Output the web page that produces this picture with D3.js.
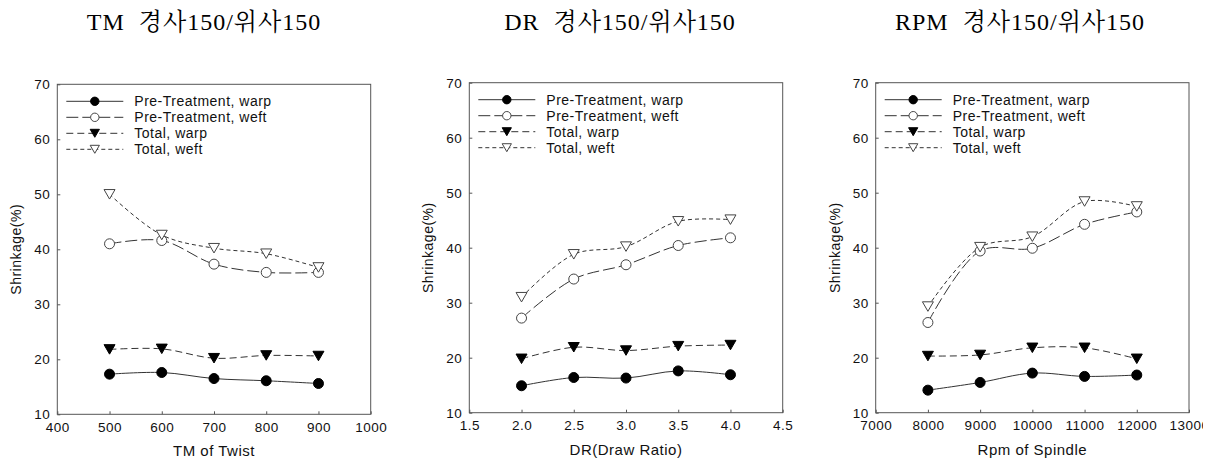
<!DOCTYPE html>
<html><head><meta charset="utf-8">
<script src="https://cdn.jsdelivr.net/npm/d3@7"></script>
<style>
html,body{margin:0;padding:0;background:#fff;}
svg{display:block;}
</style></head>
<body>
<script>
// ---- data ----
const titles = ["TM  경사150/위사150", "DR  경사150/위사150", "RPM  경사150/위사150"];
const xTitles = ["TM of Twist", "DR(Draw Ratio)", "Rpm of Spindle"];
const yTitle = "Shrinkage(%)";
const seriesNames = ["Pre-Treatment, warp", "Pre-Treatment, weft", "Total, warp", "Total, weft"];

const tmX = [500, 600, 700, 800, 900];
const tmPreWarp = [17.3, 17.6, 16.5, 16.1, 15.6];
const tmPreWeft = [41.0, 41.6, 37.3, 35.8, 35.8];
const tmTotWarp = [21.8, 21.9, 20.2, 20.7, 20.6];
const tmTotWeft = [50.0, 42.6, 40.2, 39.2, 36.7];
const tmTicks = [400, 500, 600, 700, 800, 900, 1000];

const drX = [2.0, 2.5, 3.0, 3.5, 4.0];
const drPreWarp = [14.9, 16.4, 16.3, 17.6, 16.9];
const drPreWeft = [27.2, 34.3, 36.9, 40.4, 41.8];
const drTotWarp = [19.8, 21.9, 21.3, 22.1, 22.3];
const drTotWeft = [31.0, 38.8, 40.2, 44.8, 45.1];
const drTicks = [1.5, 2.0, 2.5, 3.0, 3.5, 4.0, 4.5];

const rpmX = [8000, 9000, 10000, 11000, 12000];
const rpmPreWarp = [14.1, 15.5, 17.2, 16.6, 16.85];
const rpmPreWeft = [26.4, 39.4, 39.9, 44.25, 46.5];
const rpmTotWarp = [20.3, 20.5, 21.8, 21.8, 19.8];
const rpmTotWeft = [29.3, 40.1, 42.0, 48.4, 47.5];
const rpmTicks = [7000, 8000, 9000, 10000, 11000, 12000, 13000];

const yTicks = [10, 20, 30, 40, 50, 60, 70];

// ---- layout ----
const W = 1203, H = 459;
const svg = d3.select("body").append("svg").attr("width", W).attr("height", H)
  .style("overflow", "hidden");

const panels = [
  {x: tmX, s: [tmPreWarp, tmPreWeft, tmTotWarp, tmTotWeft], ticks: tmTicks, dom: [400, 1000], fmt: d3.format("d"),
   left: 57.3, right: 370.7, top: 84.3, bottom: 414.3, titleX: 204},
  {x: drX, s: [drPreWarp, drPreWeft, drTotWarp, drTotWeft], ticks: drTicks, dom: [1.5, 4.5], fmt: d3.format(".1f"),
   left: 469.3, right: 782.7, top: 82.7, bottom: 412.7, titleX: 620},
  {x: rpmX, s: [rpmPreWarp, rpmPreWeft, rpmTotWarp, rpmTotWeft], ticks: rpmTicks, dom: [7000, 13000], fmt: d3.format("d"),
   left: 875.7, right: 1189, top: 82.7, bottom: 412.7, titleX: 1020}
];

const dashes = [null, "12,4", "7,4", "4,3"];
const lineCol = "#333";
const axisCol = "#555";
const sansFont = "'Liberation Sans', Arial, sans-serif";

function marker(g, type, cx, cy, r) {
  if (type === 0 || type === 1) {
    g.append("circle").attr("cx", cx).attr("cy", cy).attr("r", r)
      .attr("fill", type === 0 ? "#000" : "#fff")
      .attr("stroke", type === 0 ? "#000" : "#444").attr("stroke-width", 1);
  } else {
    const w = r * 1.1, h = r * 0.95;
    const p = `M${cx - w},${cy - h}L${cx + w},${cy - h}L${cx},${cy + h}Z`;
    g.append("path").attr("d", p)
      .attr("fill", type === 2 ? "#000" : "#fff")
      .attr("stroke", type === 2 ? "#000" : "#444").attr("stroke-width", 1);
  }
}

panels.forEach((P, pi) => {
  const x = d3.scaleLinear().domain(P.dom).range([P.left, P.right]);
  const y = d3.scaleLinear().domain([10, 70]).range([P.bottom, P.top]);
  const g = svg.append("g");

  // title
  g.append("text").attr("x", P.titleX).attr("y", 30).attr("text-anchor", "middle")
    .attr("font-family", "'Liberation Serif', 'Times New Roman', 'Noto Serif CJK KR', 'Noto Sans CJK KR', serif")
    .attr("font-size", 24).attr("fill", "#000").style("white-space", "pre")
    .style("letter-spacing", "1px").attr("font-weight", "normal")
    .attr("xml:space", "preserve").text(titles[pi]);

  // axes
  const xa = g.append("g").attr("transform", `translate(0,${P.bottom})`)
    .call(d3.axisBottom(x).tickValues(P.ticks).tickFormat(P.fmt).tickSizeInner(-3).tickSizeOuter(0).tickPadding(8));
  const ya = g.append("g").attr("transform", `translate(${P.left},0)`)
    .call(d3.axisLeft(y).tickValues(yTicks).tickSizeInner(-3).tickSizeOuter(0).tickPadding(7));
  [xa, ya].forEach(a => {
    a.select(".domain").remove();
    a.selectAll(".tick line").attr("stroke", axisCol);
    a.selectAll(".tick text").attr("font-family", sansFont).attr("font-size", 13.5)
      .attr("fill", "#111").style("letter-spacing", "0.5px");
  });
  // frame
  g.append("rect").attr("x", P.left).attr("y", P.top)
    .attr("width", P.right - P.left).attr("height", P.bottom - P.top)
    .attr("fill", "none").attr("stroke", axisCol).attr("stroke-width", 1);

  // axis titles
  g.append("text").attr("x", (P.left + P.right) / 2).attr("y", P.bottom + 42)
    .attr("text-anchor", "middle").attr("font-family", sansFont).attr("font-size", 15)
    .style("letter-spacing", "0.5px").attr("fill", "#111").text(xTitles[pi]);
  g.append("text").attr("transform", `translate(${P.left - 36},${(P.top + P.bottom) / 2}) rotate(-90)`)
    .attr("text-anchor", "middle").attr("font-family", sansFont).attr("font-size", 14)
    .style("letter-spacing", "0.5px").attr("fill", "#111").text(yTitle);

  // lines
  const line = d3.line().x(d => x(d[0])).y(d => y(d[1])).curve(d3.curveCatmullRom.alpha(0.5));
  P.s.forEach((vals, si) => {
    const pts = P.x.map((xv, i) => [xv, vals[i]]);
    g.append("path").attr("d", line(pts)).attr("fill", "none")
      .attr("stroke", lineCol).attr("stroke-width", 1)
      .attr("stroke-dasharray", dashes[si]);
  });
  // markers
  P.s.forEach((vals, si) => {
    P.x.forEach((xv, i) => marker(g, si, x(xv), y(vals[i]), 5));
  });

  // legend
  seriesNames.forEach((name, si) => {
    const ly = P.top + 17 + si * 16;
    g.append("line").attr("x1", P.left + 9).attr("x2", P.left + 66).attr("y1", ly).attr("y2", ly)
      .attr("stroke", lineCol).attr("stroke-width", 1).attr("stroke-dasharray", dashes[si]);
    marker(g, si, P.left + 37.5, ly, 4.2);
    g.append("text").attr("x", P.left + 77).attr("y", ly).attr("dy", "0.35em")
      .attr("font-family", sansFont).attr("font-size", 14).style("letter-spacing", "0.5px")
      .attr("fill", "#111").text(name);
  });
});
</script>
</body></html>
